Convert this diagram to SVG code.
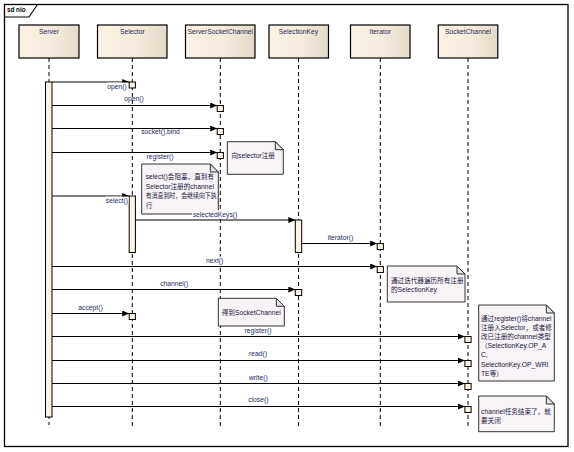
<svg xmlns="http://www.w3.org/2000/svg" width="574" height="452" viewBox="0 0 574 452">
<defs>
<linearGradient id="hdr" x1="0" y1="0" x2="1" y2="0">
<stop offset="0" stop-color="#FBF1E4"/>
<stop offset="0.55" stop-color="#F6ECDD"/>
<stop offset="1" stop-color="#E3D9C9"/>
</linearGradient>
<marker id="ah" markerUnits="userSpaceOnUse" markerWidth="8" markerHeight="7" refX="7" refY="3" orient="auto">
<path d="M0,0 L7,3 L0,6 z" fill="#000"/>
</marker>
<style>
text{font-family:"Liberation Sans","Noto Sans CJK SC",sans-serif;font-size:6.75px}
.hdr{fill:url(#hdr);stroke:#000;stroke-width:1.2}
.hl{fill:#1d2b5c;text-anchor:middle}
.life{stroke:#000;stroke-width:1;stroke-dasharray:4,3;fill:none}
.bar{fill:#FBF1E4;stroke:#000;stroke-width:1}
.msg{stroke:#000;stroke-width:1.1;fill:none;marker-end:url(#ah)}
.ml{fill:#1d2b5c;text-anchor:middle}
.bg{fill:#fff}
.note{fill:#F7F3F7;stroke:#333;stroke-width:1}
.fold{fill:#E4E0E4;stroke:#333;stroke-width:1}
.nt{fill:#1a1a3a}
.c{font-size:6.6px}
</style>
</defs>
<rect width="574" height="452" fill="#fff"/>
<g id="frame">
<rect x="4.5" y="4.5" width="563.5" height="442" fill="none" stroke="#000" stroke-width="1.3"/>
<path d="M4.5,17 H29 L37.5,4.5" fill="none" stroke="#000" stroke-width="1.1"/>
<text x="7" y="11.5" style="font-weight:bold;font-size:6.3px" fill="#000">sd nio</text>
</g>
<g id="lifeline-server">
<line class="life" x1="49" y1="58" x2="49" y2="425"/>
<rect class="hdr" x="19" y="25" width="60" height="33"/>
<text class="hl" x="49" y="33.5">Server</text>
<rect class="bar" x="45.5" y="82" width="6.5" height="335"/>
</g>
<g id="lifeline-selector">
<line class="life" x1="132.3" y1="58" x2="132.3" y2="426"/>
<rect class="hdr" x="97.5" y="25" width="69.5" height="33"/>
<text class="hl" x="132.3" y="33.5">Selector</text>
<rect class="bar" x="129.2" y="82" width="6.2" height="6"/>
<rect class="bar" x="129.2" y="196" width="6.2" height="56.5"/>
<rect class="bar" x="129.2" y="313.5" width="6.2" height="6"/>
</g>
<g id="lifeline-serversocketchannel">
<line class="life" x1="220.3" y1="58" x2="220.3" y2="426"/>
<rect class="hdr" x="185.5" y="25" width="69.5" height="33"/>
<text class="hl" x="220.3" y="33.5">ServerSocketChannel</text>
<rect class="bar" x="217.2" y="105.5" width="6.2" height="6"/>
<rect class="bar" x="217.2" y="128.5" width="6.2" height="6"/>
<rect class="bar" x="217.2" y="152.5" width="6.2" height="6"/>
</g>
<g id="lifeline-selectionkey">
<line class="life" x1="298.5" y1="58" x2="298.5" y2="426"/>
<rect class="hdr" x="269" y="25" width="59.5" height="33"/>
<text class="hl" x="298.5" y="33.5">SelectionKey</text>
<rect class="bar" x="295.3" y="220" width="6.4" height="32.5"/>
<rect class="bar" x="295.3" y="289.5" width="6.4" height="6"/>
</g>
<g id="lifeline-iterator">
<line class="life" x1="380.3" y1="58" x2="380.3" y2="426"/>
<rect class="hdr" x="350.5" y="25" width="59.5" height="33"/>
<text class="hl" x="380.3" y="33.5">Iterator</text>
<rect class="bar" x="377.2" y="243.5" width="6.2" height="6"/>
<rect class="bar" x="377.2" y="266.5" width="6.2" height="6"/>
</g>
<g id="lifeline-socketchannel">
<line class="life" x1="468" y1="58" x2="468" y2="426"/>
<rect class="hdr" x="438.3" y="25" width="59.5" height="33"/>
<text class="hl" x="468" y="33.5">SocketChannel</text>
<rect class="bar" x="464.9" y="336.5" width="6.2" height="6"/>
<rect class="bar" x="464.9" y="360.5" width="6.2" height="6"/>
<rect class="bar" x="464.9" y="383.5" width="6.2" height="6"/>
<rect class="bar" x="464.9" y="406.5" width="6.2" height="6"/>
</g>
<g id="connectors">
<line class="msg" x1="52" y1="82" x2="129.2" y2="82"/>
<line class="msg" x1="52" y1="105.5" x2="217.2" y2="105.5"/>
<line class="msg" x1="52" y1="128.5" x2="217.2" y2="128.5"/>
<line class="msg" x1="52" y1="152.5" x2="217.2" y2="152.5"/>
<line class="msg" x1="52" y1="196" x2="129.2" y2="196"/>
<line class="msg" x1="135.4" y1="220" x2="295.3" y2="220"/>
<line class="msg" x1="301.7" y1="243.5" x2="377.2" y2="243.5"/>
<line class="msg" x1="52" y1="266.5" x2="377.2" y2="266.5"/>
<line class="msg" x1="52" y1="289.5" x2="295.3" y2="289.5"/>
<line class="msg" x1="52" y1="313.5" x2="129.2" y2="313.5"/>
<line class="msg" x1="52" y1="336.5" x2="464.9" y2="336.5"/>
<line class="msg" x1="52" y1="360.5" x2="464.9" y2="360.5"/>
<line class="msg" x1="52" y1="383.5" x2="464.9" y2="383.5"/>
<line class="msg" x1="52" y1="406.5" x2="464.9" y2="406.5"/>
</g>
<g id="note-register-selector">
<path class="note" d="M227.3,141.7 H275.3 L283.3,149.7 V174.3 H227.3 z"/>
<path class="fold" d="M275.3,141.7 V149.7 H283.3 z"/>
<text class="nt" x="231.5" y="158"><tspan class="c">向</tspan>selector<tspan class="c">注册</tspan></text>
</g>
<g id="note-select">
<path class="note" d="M141.7,164 H210.3 L218.3,172 V214 H141.7 z"/>
<path class="fold" d="M210.3,164 V172 H218.3 z"/>
<text class="nt" x="145.7" y="179.4">select()<tspan class="c">会阻塞，直到有</tspan></text>
<text class="nt" x="145.7" y="188.9">Selector<tspan class="c">注册的</tspan>channel</text>
<text class="nt c" x="145.7" y="198.4" textLength="71" lengthAdjust="spacingAndGlyphs">有消息到时，会继续向下执</text>
<text class="nt" x="145.7" y="207.9"><tspan class="c">行</tspan></text>
</g>
<g id="note-iterator">
<path class="note" d="M387.3,266 H457 L465,274 V302 H387.3 z"/>
<path class="fold" d="M457,266 V274 H465 z"/>
<text class="nt" x="391" y="283"><tspan class="c">通过迭代器遍历所有注册</tspan></text>
<text class="nt" x="391" y="292.3"><tspan class="c">的</tspan>SelectionKey</text>
</g>
<g id="note-socketchannel">
<path class="note" d="M218.3,298.3 H276.3 L284.3,306.3 V326 H218.3 z"/>
<path class="fold" d="M276.3,298.3 V306.3 H284.3 z"/>
<text class="nt" x="221.7" y="315"><tspan class="c">得到</tspan>SocketChannel</text>
</g>
<g id="note-register-channel">
<path class="note" d="M478.7,305 H546.3 L554.3,313 V381 H478.7 z"/>
<path class="fold" d="M546.3,305 V313 H554.3 z"/>
<text class="nt" x="481" y="320.7"><tspan class="c">通过</tspan>register()<tspan class="c">将</tspan>channel</text>
<text class="nt" x="481" y="329.9"><tspan class="c">注册入</tspan>Selector<tspan class="c">，或者修</tspan></text>
<text class="nt" x="481" y="339.1"><tspan class="c">改已注册的</tspan>channel<tspan class="c">类型</tspan></text>
<text class="nt" x="481" y="348.2"><tspan class="c">（</tspan>SelectionKey.OP_A</text>
<text class="nt" x="481" y="357.4">C,</text>
<text class="nt" x="481" y="366.6">SelectionKey.OP_WRI</text>
<text class="nt" x="481" y="375.7">TE<tspan class="c">等）</tspan></text>
</g>
<g id="note-close">
<path class="note" d="M478.7,396 H546.3 L554.3,404 V431.7 H478.7 z"/>
<path class="fold" d="M546.3,396 V404 H554.3 z"/>
<text class="nt" x="481" y="414">channel<tspan class="c">任务结束了，就</tspan></text>
<text class="nt" x="481" y="423"><tspan class="c">要关闭</tspan></text>
</g>
<g id="labels">
<rect class="bg" x="106" y="82.6" width="22" height="8"/>
<text class="ml" x="117" y="89">open()</text>
<text class="ml" x="134" y="101.4">open()</text>
<text class="ml" x="160.5" y="134">socket().bind</text>
<text class="ml" x="160" y="159">register()</text>
<rect class="bg" x="105.5" y="196.6" width="23" height="8"/>
<text class="ml" x="116.9" y="203">select()</text>
<rect class="bg" x="192" y="210.3" width="46" height="8"/>
<text class="ml" x="215" y="216.7">selectedKeys()</text>
<text class="ml" x="340.5" y="239.7">iterator()</text>
<rect class="bg" x="205" y="256.6" width="20" height="8"/>
<text class="ml" x="214.7" y="263">next()</text>
<text class="ml" x="174.3" y="286">channel()</text>
<text class="ml" x="90.5" y="309.7">accept()</text>
<text class="ml" x="258" y="333.4">register()</text>
<text class="ml" x="258" y="356">read()</text>
<text class="ml" x="258.3" y="380">write()</text>
<text class="ml" x="258.3" y="402.4">close()</text>
</g>
</svg>
